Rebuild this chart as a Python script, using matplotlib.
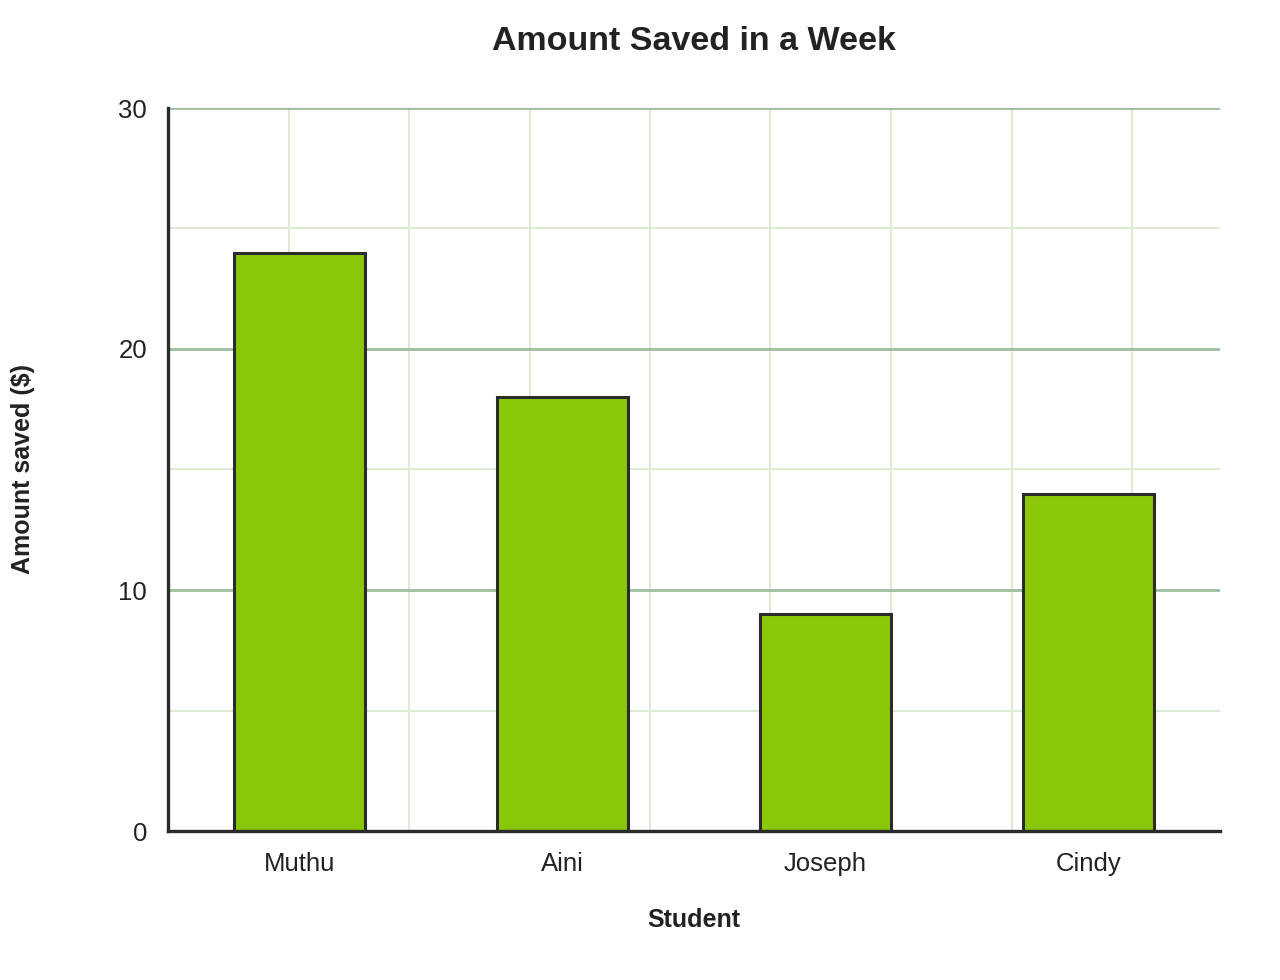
import matplotlib.pyplot as plt
import numpy as np

plt.rcParams['font.family'] = ['Liberation Sans', 'DejaVu Sans']

students = ["Muthu", "Aini", "Joseph", "Cindy"]
amounts = [24, 18, 9, 14]
y_ticks = [0, 10, 20, 30]

bar_color = "#8ac807"
edge_color = "#2b2b2b"
text_color = "#222222"

fig = plt.figure(figsize=(12.8, 9.8), dpi=100)
ax = fig.add_axes([168 / 1280, 149 / 980, 1052 / 1280, 723 / 980])

x = np.arange(len(students))
x_min, x_max = -0.5, len(students) - 0.5

# grid: light minor lines, darker major lines
for v in [5, 15, 25]:
    ax.axhline(v, color="#dcebd2", lw=1.5, zorder=0)
for v in [10, 20, 30]:
    ax.axhline(v, color="#9dbf9d", lw=2, zorder=0.5)
step = (x_max - x_min) * 120.5 / 1052
for k in range(1, 9):
    ax.axvline(x_min + k * step, color="#dcebd2", lw=1.5, zorder=0)

ax.bar(x, amounts, width=0.5, color=bar_color, edgecolor=edge_color,
       linewidth=2.2, zorder=2)

ax.set_xlim(x_min, x_max)
ax.set_ylim(0, 30)
ax.set_xticks(x)
ax.set_xticklabels(students)
ax.set_yticks(y_ticks)
ax.tick_params(axis="both", length=0, labelsize=18.5, colors=text_color, pad=15)

for side in ["top", "right"]:
    ax.spines[side].set_visible(False)
for side in ["left", "bottom"]:
    ax.spines[side].set_color(edge_color)
    ax.spines[side].set_linewidth(2.4)
    ax.spines[side].set_zorder(3)

fig.text(694 / 1280, 1 - 42 / 980, "Amount Saved in a Week", ha="center", va="center",
         fontsize=24.5, fontweight="bold", color=text_color)
fig.text(694 / 1280, 1 - 920 / 980, "Student", ha="center", va="center",
         fontsize=18, fontweight="bold", color=text_color)
fig.text(23 / 1280, 1 - 469 / 980, "Amount saved ($)", ha="center", va="center",
         rotation=90, fontsize=18, fontweight="bold", color=text_color)

fig.savefig("out.png", dpi=100, facecolor="white")
